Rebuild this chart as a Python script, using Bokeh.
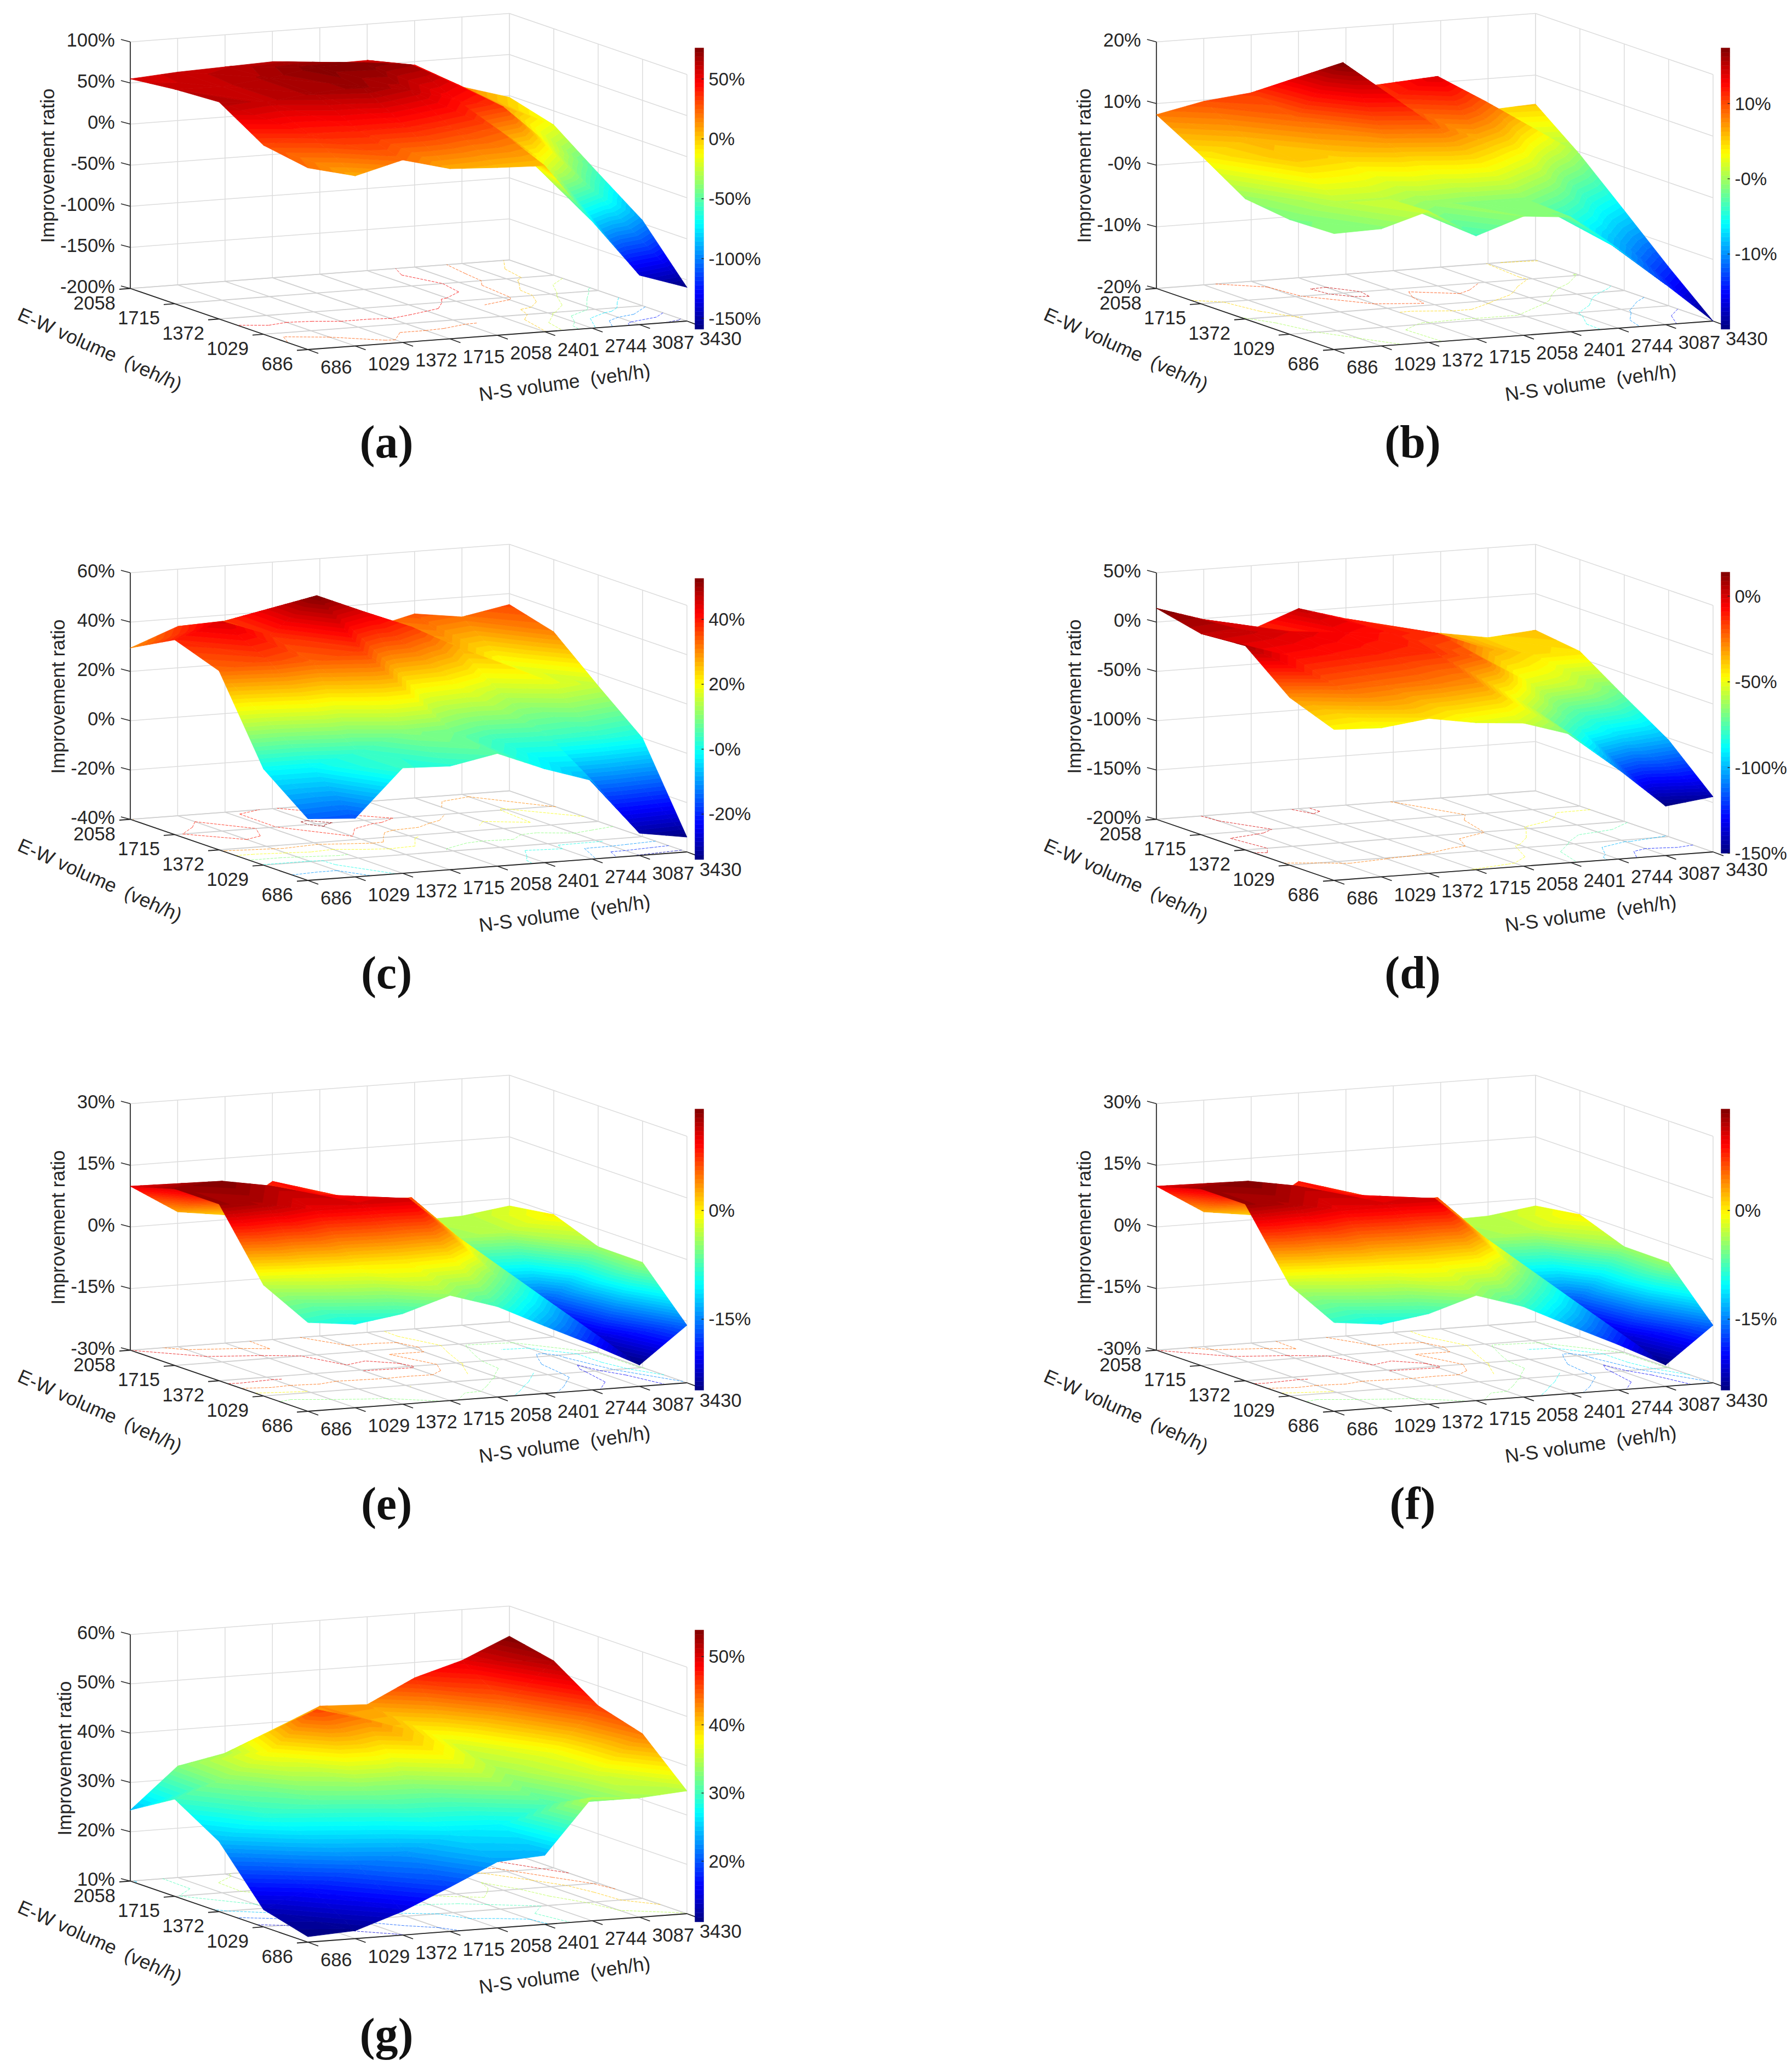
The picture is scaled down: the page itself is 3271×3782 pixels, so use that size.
import numpy as np
from bokeh.plotting import figure
from bokeh.layouts import column, row
from bokeh.models import ColumnDataSource, Range1d
from bokeh.core.properties import value
from bokeh.embed import file_html
from bokeh.resources import INLINE

NS_VOLUME = [686, 1029, 1372, 1715, 2058, 2401, 2744, 3087, 3430]
EW_VOLUME = [686, 1029, 1372, 1715, 2058]
X_LABEL = "N-S volume \u00a0(veh/h)"
Y_LABEL = "E-W volume \u00a0(veh/h)"
Z_LABEL = "Improvement ratio"

# rows: E-W volume 686 ... 2058; columns: N-S volume 686 ... 3430
Z_A = [[21, 7, 22, 7, 4, 2, -70, -140, -159],
       [30, 38, 40, 40, 33, 25, -19, -57, -96],
       [64, 60, 66, 70, 62, 45, 32, -20, -57],
       [61, 60, 66, 75, 76, 69, 40, 8, -17],
       [55, 59, 61, 63, 55, 56, 46, 15, -2]]
Z_B = [[-1.2, -1, 1.3, -3.3, -0.7, -1.4, -7.1, -13.5, -20],
       [-1.4, 1, 1, -0.5, -1, -1, -4.5, -9, -13.7],
       [-0.5, 5.5, 5, 7, 9, 6, 2.5, -3, -7],
       [4.1, 6, 9, 17.4, 11, 14, 9.4, 4.5, -0.4],
       [8.2, 9.8, 10.6, 11, 10, 10, 8, 4.9, 5.3]]
Z_C = [[-15, -16.3, 2.7, 2, 5.7, -2, -8.2, -31, -34],
       [-1, -1, 3, 10, 8, 3, 4, 3, 0],
       [32.6, 36, 33, 37, 22, 20, 14, 18, 15],
       [39, 45, 38, 52.6, 44.6, 37, 27, 19, 30.7],
       [29.5, 36.8, 37.6, 40.9, 32, 30, 34.7, 32, 35.6]]
Z_D = [[-47, -49, -43, -51, -55, -70, -109, -150, -144],
       [-30, -22, -24, -26, -30, -55, -78, -95, -102],
       [7, -8, -10, -12, -14, -24, -52, -58, -73],
       [3.8, 2, -2, -6, -10, -14, -33, -42, -43],
       [14, -1, -15, 3, -11, -26, -33, -41, -37]]
Z_E = [[-8.4, -9.7, -8, -4.4, -8, -13.6, -19, -24.8, -16],
       [-3, -1, 0, 0.5, 0, -6, -12, -22, -4.4],
       [13, 12, 10, 10.5, 10.9, 1, -10, -17, -4.3],
       [13, 14, 12, 9, 6.5, 6.5, -4, -3, -0.2],
       [9.9, 2.8, 1.2, 8.5, 2.5, 2, -3.7, -3.4, -1.8]]
Z_F = [[-8.4, -9.7, -8, -4.4, -8, -13.6, -19, -24.8, -16],
       [-3, -1, 0, 0.5, 0, -6, -12, -22, -4.4],
       [13, 12, 10, 10.5, 10.9, 1, -10, -17, -4.3],
       [13, 14, 12, 9, 6.5, 6.5, -4, -3, -0.2],
       [9.9, 2.8, 1.2, 8.5, 2.5, 2, -3.7, -3.4, -1.8]]
Z_G = [[11.1, 11.6, 14.8, 19, 23.4, 24, 35, 34.2, 34.9],
       [13.5, 17, 21, 23, 26, 27, 30.5, 36, 43.4],
       [24.2, 29, 31, 33, 33.5, 37, 34, 37, 46],
       [29.7, 33, 38, 45.7, 43, 40, 36, 44, 52],
       [24.4, 32.6, 34.5, 38.5, 42.6, 42.2, 46.9, 49.7, 53.9]]

Z_TICKS_A = [-200, -150, -100, -50, 0, 50, 100]
Z_TICKS_B = [-20, -10, 0, 10, 20]
Z_TICKS_C = [-40, -20, 0, 20, 40, 60]
Z_TICKS_D = [-200, -150, -100, -50, 0, 50]
Z_TICKS_E = [-30, -15, 0, 15, 30]
Z_TICKS_G = [10, 20, 30, 40, 50, 60]
Z_TEXT_B = ["-20%", "-10%", "-0%", "10%", "20%"]
BAR_TICKS_A = [-150, -100, -50, 0, 50]
BAR_TICKS_B = [-10, 0, 10]
BAR_TICKS_C = [-20, 0, 20, 40]
BAR_TICKS_D = [-150, -100, -50, 0]
BAR_TICKS_E = [-15, 0]
BAR_TICKS_G = [20, 30, 40, 50]
BAR_TEXT_B = ["-10%", "-0%", "10%"]
BAR_TEXT_C = ["-20%", "-0%", "20%", "40%"]
LEVELS_A = [-150, -125, -100, -75, -50, -25, 0, 25, 50]
LEVELS_B = [-15, -10, -5, 0, 5, 10, 15]
LEVELS_C = [-30, -20, -10, 0, 10, 20, 30, 40, 50]
LEVELS_D = [-125, -100, -75, -50, -25, 0]
LEVELS_E = [-20, -15, -10, -5, 0, 5, 10]
LEVELS_G = [15, 20, 25, 30, 35, 40, 45, 50]

# layout, in page pixels local to each panel
CELL_W, CELL_H, LAST_H, RIGHT_W = 1873, 969, 859, 1390
FX, FY, RX, RY, LX, LY, ZH = 553.5, 629.5, 1245.4, 577.5, 229.3, 518.0, 450.0
FONT = value("Liberation Sans")
INK = "#262626"
TICK_SIZE = "34.5px"


def jet(n=64):
    t = (np.arange(n) + 0.5) / n
    r = np.clip(np.minimum(4 * t - 1.5, -4 * t + 4.5), 0, 1)
    g = np.clip(np.minimum(4 * t - 0.5, -4 * t + 3.5), 0, 1)
    b = np.clip(np.minimum(4 * t + 0.5, -4 * t + 2.5), 0, 1)
    return ["#%02x%02x%02x" % (int(a * 255), int(c * 255), int(d * 255)) for a, c, d in zip(r, g, b)]


JET = jet()


def clip(poly, lim, keep_above):
    out = []
    for k in range(len(poly)):
        a, b = poly[k], poly[(k + 1) % len(poly)]
        ina = a[2] >= lim if keep_above else a[2] <= lim
        inb = b[2] >= lim if keep_above else b[2] <= lim
        if ina:
            out.append(a)
        if ina != inb:
            t = (lim - a[2]) / (b[2] - a[2])
            out.append(tuple(a[m] + t * (b[m] - a[m]) for m in range(3)))
    return out


def panel(z, zticks, bar_ticks, levels, caption, col, bar_y, ylab_x, ztext=None, bartext=None, height=CELL_H):
    z = np.array(z, float)
    zlo, zhi = zticks[0], zticks[-1]
    cmin, cmax = z.min(), z.max()
    xspan = NS_VOLUME[-1] - NS_VOLUME[0]
    yspan = EW_VOLUME[-1] - EW_VOLUME[0]

    def proj(xv, yv, zv):
        fx = (xv - NS_VOLUME[0]) / xspan
        fy = (yv - EW_VOLUME[0]) / yspan
        fz = (zv - zlo) / (zhi - zlo)
        return (FX + fx * (RX - FX) + fy * (LX - FX), FY + fx * (RY - FY) + fy * (LY - FY) - fz * ZH)

    width = CELL_W if col == 0 else RIGHT_W
    p = figure(width=width, height=height, x_range=Range1d(0, width), y_range=Range1d(height, 0),
               output_backend="svg", toolbar_location=None, x_axis_type=None, y_axis_type=None,
               min_border=0, outline_line_color=None, background_fill_color="white")
    p.grid.visible = False

    def seg(pairs, color, w):
        p.multi_line([[a[0], b[0]] for a, b in pairs], [[a[1], b[1]] for a, b in pairs], line_color=color, line_width=w)

    x0, x1, y0, y1 = NS_VOLUME[0], NS_VOLUME[-1], EW_VOLUME[0], EW_VOLUME[-1]
    wall = []
    for xv in NS_VOLUME:
        wall.append((proj(xv, y1, zlo), proj(xv, y1, zhi)))
    for yv in EW_VOLUME:
        wall.append((proj(x1, yv, zlo), proj(x1, yv, zhi)))
    for zv in zticks:
        wall.append((proj(x0, y1, zv), proj(x1, y1, zv)))
        wall.append((proj(x1, y1, zv), proj(x1, y0, zv)))
    seg(wall, "#dcdcdc", 1.5)
    floor = []
    for xv in NS_VOLUME:
        floor.append((proj(xv, y0, zlo), proj(xv, y1, zlo)))
    for yv in EW_VOLUME:
        floor.append((proj(x0, yv, zlo), proj(x1, yv, zlo)))
    seg(floor, "#d0d0d0", 1.8)

    # triangles, back to front
    tris = []
    for j in range(len(EW_VOLUME) - 2, -1, -1):
        for i in range(len(NS_VOLUME) - 2, -1, -1):
            vs = {}
            for a, b in ((i, j), (i + 1, j), (i, j + 1), (i + 1, j + 1)):
                vs[(a, b)] = proj(NS_VOLUME[a], EW_VOLUME[b], z[b, a]) + (z[b, a],)
            tris.append((vs[(i + 1, j + 1)], vs[(i + 1, j)], vs[(i, j + 1)]))
            tris.append((vs[(i + 1, j)], vs[(i, j + 1)], vs[(i, j)]))

    # contours on the floor
    cx, cy, cc = [], [], []
    for lev in levels:
        k = int(np.clip((lev - cmin) / (cmax - cmin) * 64, 0, 63))
        for t in tris:
            pts = []
            for m in range(3):
                a, b = t[m], t[(m + 1) % 3]
                if (a[2] - lev) * (b[2] - lev) < 0:
                    f = (lev - a[2]) / (b[2] - a[2])
                    pts.append((a[0] + f * (b[0] - a[0]), a[1] + f * (b[1] - a[1]), a[2] + f * (b[2] - a[2])))
            if len(pts) == 2:
                h = [(q[2] - zlo) / (zhi - zlo) * ZH for q in pts]
                cx.append([pts[0][0], pts[1][0]])
                cy.append([pts[0][1] + h[0], pts[1][1] + h[1]])
                cc.append(JET[k])
    p.multi_line(cx, cy, line_color=cc, line_width=0.8, line_dash="5 2")

    # axis lines and ticks
    axis = [(proj(x0, y1, zlo), proj(x0, y1, zhi)), (proj(x0, y0, zlo), proj(x1, y0, zlo)),
            (proj(x0, y0, zlo), proj(x0, y1, zlo))]
    seg(axis, INK, 1.8)
    ticks = []
    for xv in NS_VOLUME:
        a = proj(xv, y0, zlo)
        ticks.append((a, (a[0] + 19, a[1] + 7)))
    for yv in EW_VOLUME:
        a = proj(x0, yv, zlo)
        ticks.append((a, (a[0] - 20, a[1] + 1.5)))
    for zv in zticks:
        a = proj(x0, y1, zv)
        ticks.append((a, (a[0] - 17, a[1] - 4.5)))
    seg(ticks, INK, 1.8)

    # surface, split in the 64 colour bands
    xs, ys, cs = [], [], []
    step = (cmax - cmin) / 64
    for t in tris:
        zs = [q[2] for q in t]
        k0 = int(np.clip((min(zs) - cmin) / step, 0, 63))
        k1 = int(np.clip((max(zs) - cmin) / step, 0, 63))
        for k in range(k0, k1 + 1):
            poly = clip(list(t), cmin + k * step, True)
            if poly:
                poly = clip(poly, cmin + (k + 1) * step, False)
            if len(poly) >= 3:
                xs.append([q[0] for q in poly])
                ys.append([q[1] for q in poly])
                cs.append(JET[k])
    src = ColumnDataSource(dict(xs=xs, ys=ys, c=cs))
    p.patches("xs", "ys", source=src, fill_color="c", line_color="c", line_width=0.8)

    # colour bar
    bt, bb = bar_y
    edges = np.linspace(cmin, cmax, 65)
    to_y = lambda v: bb + (v - cmin) / (cmax - cmin) * (bt - bb)
    p.quad(left=1260, right=1276, top=[to_y(v) for v in edges[1:]], bottom=[to_y(v) for v in edges[:-1]],
           fill_color=JET, line_color=JET, line_width=0.5)
    p.segment(x0=[1272] * len(bar_ticks), x1=[1276] * len(bar_ticks), y0=[to_y(v) for v in bar_ticks],
              y1=[to_y(v) for v in bar_ticks], line_color=INK, line_width=1.5)
    bar_lab = bartext or ["%d%%" % v for v in bar_ticks]
    p.text(x=[1285] * len(bar_ticks), y=[to_y(v) for v in bar_ticks], text=bar_lab, text_font=FONT,
           text_font_size="33px", text_align="left", text_baseline="middle", text_color=INK)

    # tick labels
    tx = [proj(v, y0, zlo) for v in NS_VOLUME]
    p.text(x=[a[0] + 23 for a in tx], y=[a[1] + 32 for a in tx], text=[str(v) for v in NS_VOLUME], text_font=FONT,
           text_font_size=TICK_SIZE, text_align="left", text_baseline="middle", text_color=INK)
    ty = [proj(x0, v, zlo) for v in EW_VOLUME]
    p.text(x=[a[0] - 27 for a in ty], y=[a[1] + 26 for a in ty], text=[str(v) for v in EW_VOLUME], text_font=FONT,
           text_font_size=TICK_SIZE, text_align="right", text_baseline="middle", text_color=INK)
    tz = [proj(x0, y1, v) for v in zticks]
    z_lab = ztext or ["%d%%" % v for v in zticks]
    p.text(x=[a[0] - 28 for a in tz], y=[a[1] - 4 for a in tz], text=z_lab, text_font=FONT,
           text_font_size=TICK_SIZE, text_align="right", text_baseline="middle", text_color=INK)

    # titles
    p.text(x=[ylab_x], y=[294], text=[Z_LABEL], angle=np.pi / 2, text_font=FONT, text_font_size="35px",
           text_align="center", text_baseline="middle", text_color=INK)
    p.text(x=[1022], y=[690], text=[X_LABEL], angle=np.radians(8), text_font=FONT, text_font_size="35.5px",
           text_align="center", text_baseline="middle", text_color=INK)
    p.text(x=[174], y=[629], text=[Y_LABEL], angle=np.radians(-24), text_font=FONT, text_font_size="35.5px",
           text_align="center", text_baseline="middle", text_color=INK)
    p.text(x=[697], y=[798], text=[caption], text_font=value("Liberation Serif"), text_font_size="84px",
           text_font_style="bold", text_align="center", text_baseline="middle", text_color="#111111")
    return p


pa = panel(Z_A, Z_TICKS_A, BAR_TICKS_A, LEVELS_A, "(a)", 0, (79, 592.4), 78)
pb = panel(Z_B, Z_TICKS_B, BAR_TICKS_B, LEVELS_B, "(b)", 1, (79, 592.4), 97, ztext=Z_TEXT_B, bartext=BAR_TEXT_B)
pc = panel(Z_C, Z_TICKS_C, BAR_TICKS_C, LEVELS_C, "(c)", 0, (78.3, 591.4), 97, bartext=BAR_TEXT_C)
pd_ = panel(Z_D, Z_TICKS_D, BAR_TICKS_D, LEVELS_D, "(d)", 1, (66.8, 580), 78.5)
pe = panel(Z_E, Z_TICKS_E, BAR_TICKS_E, LEVELS_E, "(e)", 0, (77.8, 591), 97)
pf = panel(Z_F, Z_TICKS_E, BAR_TICKS_E, LEVELS_E, "(f)", 1, (77.8, 591), 97)
pg = panel(Z_G, Z_TICKS_G, BAR_TICKS_G, LEVELS_G, "(g)", 0, (59.8, 592.5), 108.7, height=LAST_H)

page = column(row(pa, pb, spacing=0), row(pc, pd_, spacing=0), row(pe, pf, spacing=0), pg, spacing=0,
              margin=(8, 0, 0, 8))
open("out.html", "w").write(file_html(page, INLINE))
